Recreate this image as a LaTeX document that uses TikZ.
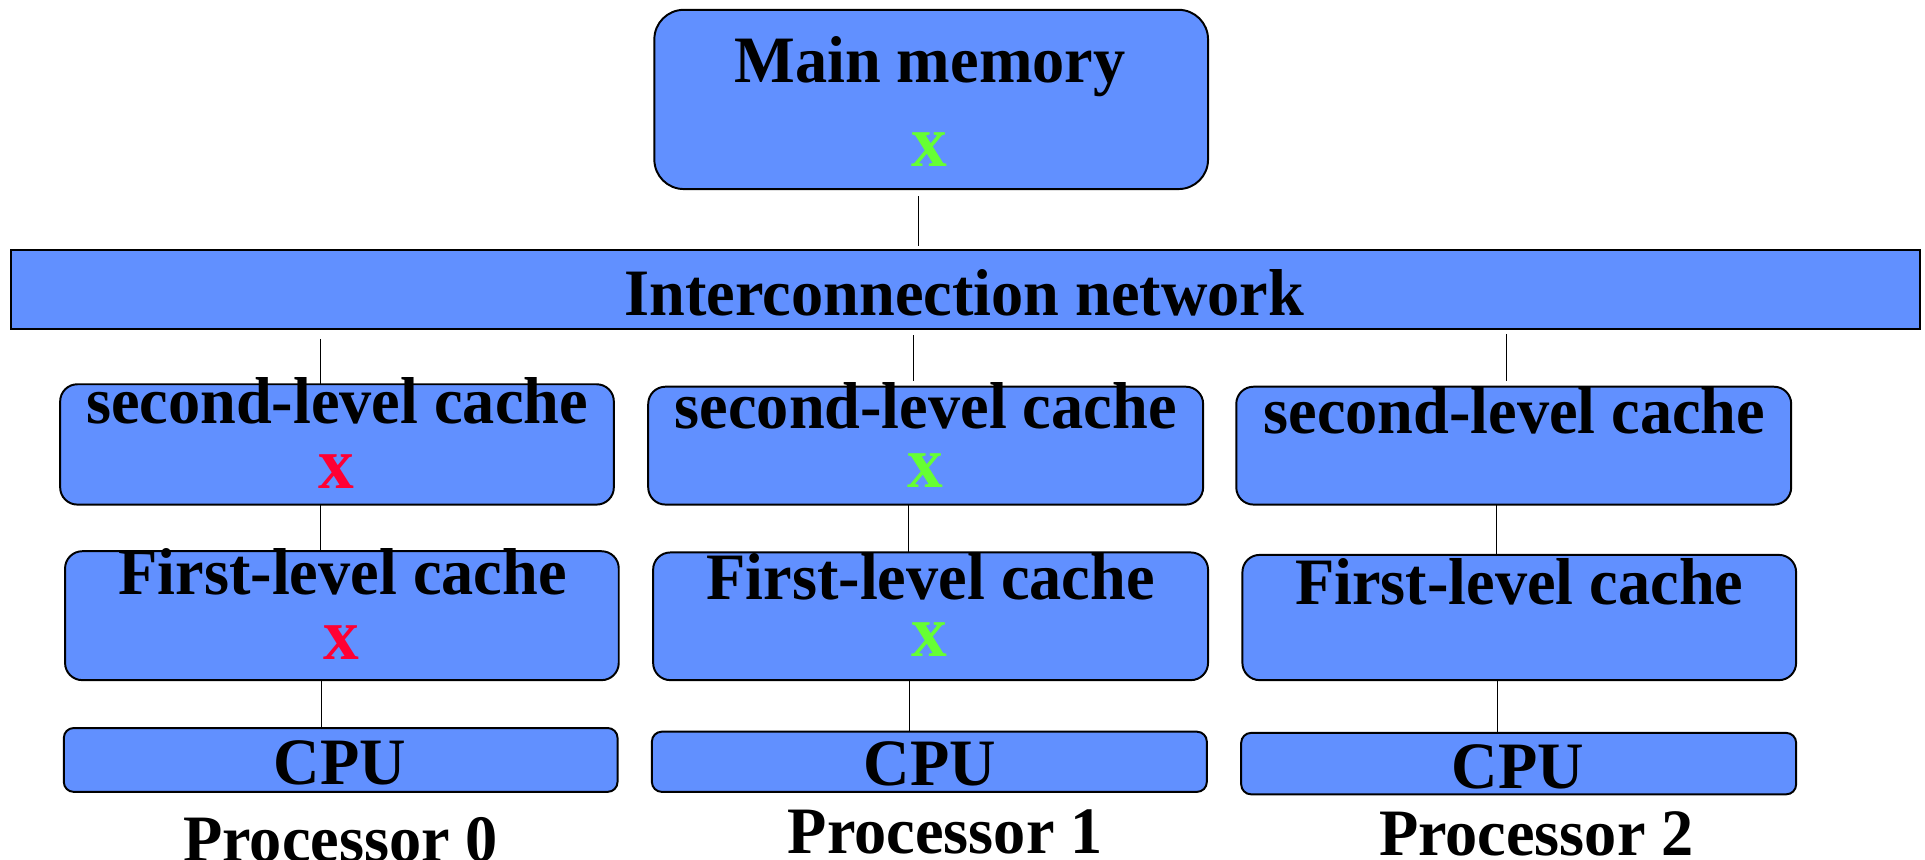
\documentclass[tikz,border=0pt]{standalone}
\usepackage{fontspec}
\setmainfont{Liberation Serif}[FakeStretch=0.97]
\usetikzlibrary{fit}
\definecolor{boxblue}{HTML}{6190FF}
\definecolor{okgreen}{HTML}{66FF33}
\definecolor{badred}{HTML}{FF0033}
\tikzset{
  box/.style={draw=black, line width=0.8pt, fill=boxblue, inner sep=0pt, outer sep=0pt},
  bigbox/.style={box, rounded corners=12pt},
  cachebox/.style={box, rounded corners=7pt},
  cpubox/.style={box, rounded corners=4pt},
  lbl/.style={font=\fontsize{27}{30}\selectfont\bfseries, inner sep=0pt, anchor=base},
  xmark/.style={font=\fontsize{30}{32}\selectfont\bfseries, inner sep=0pt, anchor=base},
  conn/.style={draw=black, line width=0.5pt},
}
\begin{document}
\begin{tikzpicture}[x=0.5pt, y=-0.5pt]
\useasboundingbox (0,0) rectangle (1568,700);
% boxes
\node[bigbox, fit={(533,8) (984,154)}] (mm) {};
\node[box, fit={(9,204) (1564,268)}] (net) {};
\node[cachebox, fit={(49,313) (500,411)}] (a2) {};
\node[cachebox, fit={(528,315) (980,411)}] (b2) {};
\node[cachebox, fit={(1007,315) (1459,411)}] (c2) {};
\node[cachebox, fit={(53,449) (504,554)}] (a1) {};
\node[cachebox, fit={(532,450) (984,554)}] (b1) {};
\node[cachebox, fit={(1012,452) (1463,554)}] (c1) {};
\node[cpubox, fit={(52,593) (503,645)}] (a0) {};
\node[cpubox, fit={(531,596) (983,645)}] (b0) {};
\node[cpubox, fit={(1011,597) (1463,647)}] (c0) {};
% connectors
\draw[conn, shorten <=3pt, shorten >=2pt] (mm.south -| 748,0) -- (net.north -| 748,0);
\draw[conn, shorten <=4pt] (net.south -| 261,0) -- (a2.north -| 261,0);
\draw[conn, shorten <=2.5pt, shorten >=2.5pt] (net.south -| 744,0) -- (b2.north -| 744,0);
\draw[conn, shorten <=2pt, shorten >=2.5pt] (net.south -| 1227,0) -- (c2.north -| 1227,0);
\draw[conn] (a2.south -| 261,0) -- (a1.north -| 261,0);
\draw[conn] (b2.south -| 740,0) -- (b1.north -| 740,0);
\draw[conn] (c2.south -| 1219,0) -- (c1.north -| 1219,0);
\draw[conn] (a1.south -| 262,0) -- (a0.north -| 262,0);
\draw[conn] (b1.south -| 741,0) -- (b0.north -| 741,0);
\draw[conn] (c1.south -| 1220,0) -- (c0.north -| 1220,0);
% texts
\node[lbl] (tmm) at (757.5,67) {Main memory};
\node[xmark, text=okgreen] (xmm) at (757,136) {x};
\node[lbl] (tnet) at (785.5,257) {Interconnection network};
\node[lbl] (ta2) at (274.5,345) {second-level cache};
\node[xmark, text=badred] (xa2) at (274,398) {x};
\node[lbl] (tb2) at (754,349) {second-level cache};
\node[xmark, text=okgreen] (xb2) at (754,397) {x};
\node[lbl] (tc2) at (1233.5,353) {second-level cache};
\node[lbl] (ta1) at (279,484) {First-level cache};
\node[xmark, text=badred] (xa1) at (278,537) {x};
\node[lbl] (tb1) at (758,488) {First-level cache};
\node[xmark, text=okgreen] (xb1) at (757,535) {x};
\node[lbl] (tc1) at (1237.5,492) {First-level cache};
\node[lbl] (ta0) at (277,639) {CPU};
\node[lbl] (tb0) at (757.5,640) {CPU};
\node[lbl] (tc0) at (1236.5,642) {CPU};
\node[lbl] (pa) at (277.5,702) {Processor 0};
\node[lbl] (pb) at (770,695) {Processor 1};
\node[lbl] (pc) at (1251.5,697) {Processor 2};
\end{tikzpicture}
\end{document}
